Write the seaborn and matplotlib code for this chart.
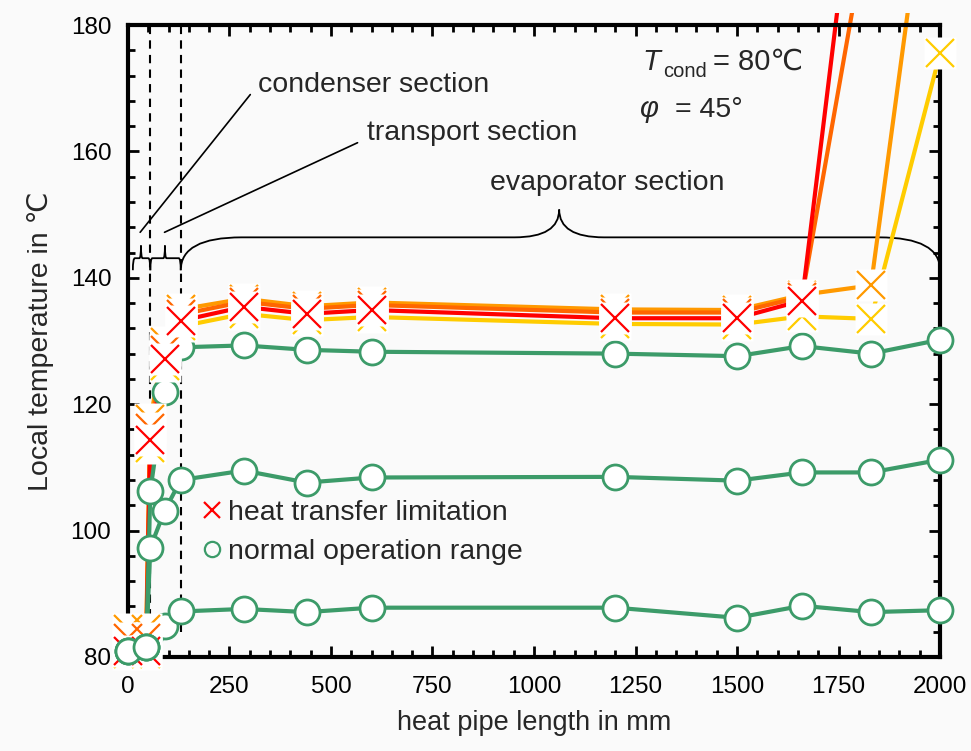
import numpy as np
import pandas as pd
import matplotlib.pyplot as plt
import seaborn as sns
from matplotlib import font_manager
from matplotlib.lines import Line2D
from matplotlib.patches import Rectangle, PathPatch
from matplotlib.path import Path
from matplotlib.ticker import MultipleLocator

# measuring positions along the heat pipe (mm)
pos = [0, 45, 55, 90, 130, 285, 440, 600, 1200, 1500, 1660, 1830, 2000]

# heat transfer limitation runs (last points leave the chart)
lim_red = [81.0, 81.0, 114.4, 127.2, 133.2, 135.4, 134.3, 134.9, 133.6, 133.6, 136.4, 226.0, np.nan]
lim_dorange = [83.0, 83.0, 116.2, 128.6, 134.2, 136.2, 135.1, 135.7, 134.5, 134.5, 137.0, 199.0, np.nan]
lim_orange = [84.5, 84.5, 117.6, 129.8, 135.0, 136.7, 135.5, 136.1, 135.0, 134.9, 137.3, 138.8, 220.0]
lim_gold = [80.5, 80.5, 113.0, 126.0, 132.3, 134.3, 133.3, 133.8, 132.7, 132.6, 133.9, 133.5, 175.5]

# normal operation runs
ok_low = [81.0, 81.6, 83.5, 84.9, 87.2, 87.6, 87.1, 87.8, 87.8, 86.2, 88.1, 87.1, 87.4]
ok_mid = [81.0, 81.6, 97.3, 103.1, 108.0, 109.5, 107.6, 108.4, 108.5, 107.9, 109.2, 109.2, 111.2]
ok_high = [81.0, 81.6, 106.3, 122.0, 129.0, 129.3, 128.6, 128.3, 128.0, 127.6, 129.2, 128.0, 130.2]

section_bounds = [55, 130]
n_cond = 2  # points inside the condenser (circles drawn on top there)

sns.set_style("ticks")
names = {f.name for f in font_manager.fontManager.ttflist}
main_font = "Liberation Sans Narrow" if "Liberation Sans Narrow" in names else "Liberation Sans"
plt.rcParams["font.family"] = [main_font, "DejaVu Sans"]

BG = "#fafafa"
GREEN = "#3c9b69"
FS = 20.5
lim_runs = [  # drawing order matters for the white marker boxes
    (lim_gold, "#ffcc00"),
    (lim_orange, "#ff9900"),
    (lim_dorange, "#ff6600"),
    (lim_red, "#ff0000"),
]
ok_runs = [ok_low, ok_mid, ok_high]

fig = plt.figure(figsize=(9.71, 7.51), dpi=100, facecolor=BG)
ax = fig.add_axes([0.1318, 0.1252, 0.8363, 0.8415], facecolor=BG)

clip = Rectangle((-0.05, -0.05), 1.1, 1.069, transform=ax.transAxes)

# limitation lines
for vals, col in lim_runs:
    df = pd.DataFrame({"x": pos, "y": vals}).dropna()
    sns.lineplot(data=df, x="x", y="y", color=col, lw=3, sort=False,
                 estimator=None, ax=ax, zorder=2)
    ax.lines[-1].set_clip_path(clip)

# normal operation lines + circles
for vals in ok_runs:
    sns.lineplot(x=pos, y=vals, color=GREEN, lw=3, sort=False,
                 estimator=None, ax=ax, zorder=3)
for vals in ok_runs:
    ax.plot(pos[n_cond:], vals[n_cond:], ls="none", marker="o", ms=18, mfc="white",
            mec=GREEN, mew=2, clip_on=False, zorder=4)
    ax.plot(pos[:n_cond], vals[:n_cond], ls="none", marker="o", ms=18, mfc="white",
            mec=GREEN, mew=2, clip_on=False, zorder=12)

# X markers with their white boxes
z = 5
for vals, col in lim_runs:
    ax.plot(pos, vals, ls="none", marker="s", ms=23, mfc="white", mec="none",
            clip_on=False, zorder=z)
    ax.plot(pos, vals, ls="none", marker="x", ms=20, mec=col, mew=1.6,
            clip_on=False, zorder=z + 0.5)
    z += 1

# section boundaries
for b in section_bounds:
    ax.axvline(b, ymin=0.04, ymax=1, color="black", ls=(0, (4, 3)), lw=1.5, zorder=1)


def brace(x0, x1, xm, y0, yh, ytip, r, rt):
    verts = [(x0, y0), (x0, yh), (x0 + r, yh),
             (xm - rt, yh), (xm, yh), (xm, ytip),
             (xm, yh), (xm + rt, yh),
             (x1 - r, yh), (x1, yh), (x1, y0)]
    codes = [Path.MOVETO, Path.CURVE3, Path.CURVE3,
             Path.LINETO, Path.CURVE3, Path.CURVE3,
             Path.CURVE3, Path.CURVE3,
             Path.LINETO, Path.CURVE3, Path.CURVE3]
    ax.add_patch(PathPatch(Path(verts, codes), fc="none", ec="black", lw=1.3, zorder=1))


brace(12, 55, 32, 141.2, 143.1, 145.1, 5, 4)
brace(55, 130, 91, 141.2, 143.1, 145.1, 5, 4)
brace(130, 2000, 1062, 141.2, 146.4, 150.8, 150, 110)

arrow = dict(arrowstyle="-", lw=1.2, color="black", shrinkA=5, shrinkB=0)
ax.annotate("condenser section", xy=(30, 147.2), xytext=(320, 170.5),
            fontsize=FS, va="center", ha="left",
            arrowprops=dict(arrow, relpos=(0, 0.5)))
ax.annotate("transport section", xy=(90, 147.2), xytext=(589, 162.9),
            fontsize=FS, va="center", ha="left",
            arrowprops=dict(arrow, relpos=(0, 0.3)))
ax.text(1180, 155.0, "evaporator section", fontsize=FS, ha="center", va="center")

# operating conditions
ax.text(0.633, 0.9288, "T", style="italic", fontsize=21, transform=ax.transAxes)
ax.text(0.659, 0.9177, "cond", fontsize=14.5, transform=ax.transAxes)
ax.text(0.720, 0.9288, "= 80\u2103", fontsize=21, transform=ax.transAxes)
ax.text(0.6305, 0.8544, "\u03c6", style="italic", fontsize=21, transform=ax.transAxes)
ax.text(0.674, 0.8544, "= 45\u00b0", fontsize=FS, transform=ax.transAxes)

handles = [
    Line2D([], [], ls="none", marker="x", ms=11, mec="#ff0000", mew=1.6),
    Line2D([], [], ls="none", marker="o", ms=11, mfc="none", mec=GREEN, mew=1.6),
]
ax.legend(handles, ["heat transfer limitation", "normal operation range"],
          loc="upper left", bbox_to_anchor=(0.095, 0.248), frameon=False,
          fontsize=FS, handlelength=0.5, handletextpad=0.3, labelspacing=0.46,
          borderpad=0, borderaxespad=0)

ax.set_xlim(0, 2000)
ax.set_ylim(80, 180)
ax.xaxis.set_major_locator(MultipleLocator(250))
ax.xaxis.set_minor_locator(MultipleLocator(50))
ax.yaxis.set_major_locator(MultipleLocator(20))
ax.yaxis.set_minor_locator(MultipleLocator(4))
ax.tick_params(which="both", direction="in", top=True, right=True, width=2,
               colors="black", labelsize=17.5)
ax.tick_params(axis="x", pad=14)
ax.tick_params(axis="y", pad=12)
ax.tick_params(which="major", length=8)
ax.tick_params(which="minor", length=5)
for s in ax.spines.values():
    s.set_linewidth(3)
    s.set_color("black")

ax.set_xlabel("heat pipe length in mm", fontsize=19.5, labelpad=8)
ax.set_ylabel("Local temperature in \u2103", fontsize=FS, labelpad=12)

fig.savefig("out.png", dpi=100, facecolor=BG)
